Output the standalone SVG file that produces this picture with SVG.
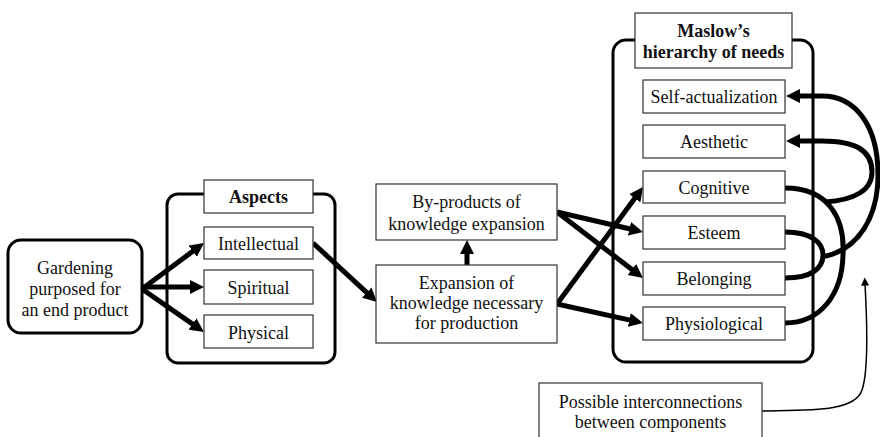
<svg xmlns="http://www.w3.org/2000/svg" width="880" height="437" viewBox="0 0 880 437">
<style>
text{font-family:"Liberation Serif","DejaVu Serif",serif;font-size:18px;fill:#111;text-anchor:middle}
.b{font-weight:bold}
.box{fill:#fff;stroke:#333;stroke-width:1.2}
.cont{fill:none;stroke:#000;stroke-width:3}
.ar{fill:none;stroke:#000;stroke-width:5;marker-end:url(#ah)}
.cv{fill:none;stroke:#000;stroke-width:5}
</style>
<defs>
<marker id="ah" viewBox="0 0 10 10" refX="3" refY="5" markerWidth="14" markerHeight="14" markerUnits="userSpaceOnUse" orient="auto"><path d="M0,0 L10,5 L0,10 z" fill="#000"/></marker>
<marker id="sa" viewBox="0 0 10 10" refX="2" refY="5" markerWidth="9" markerHeight="8" markerUnits="userSpaceOnUse" orient="auto"><path d="M0,0 L10,5 L0,10 z" fill="#000"/></marker>
</defs>
<rect width="880" height="437" fill="#fff"/>

<g id="aspects-container"><rect class="cont" x="167" y="194" width="168" height="169" rx="11"/></g>
<g id="maslow-container"><rect class="cont" x="613" y="40" width="200" height="322" rx="13"/></g>

<g id="connectors">
<path class="ar" d="M142 289 L196.1 248.8"/>
<path class="ar" d="M142 287 L194.2 287"/>
<path class="ar" d="M142 289 L195.9 326.4"/>
<path class="ar" d="M313 243 L369.8 295.4"/>
<path class="ar" d="M467 265 L467 249.8"/>
<path class="ar" d="M557 212 L633.5 229.8"/>
<path class="ar" d="M557 212 L635.2 272"/>
<path class="ar" d="M557 304 L637.2 194.9"/>
<path class="ar" d="M557 304 L633.4 320.9"/>
<path class="cv" d="M785 188 C830 188 845 220 843 255 C842 295 820 323 785 323"/>
<path class="cv" d="M785 232 C812 232 823 243 823 255 C823 268 812 278 785 278"/>
<path class="ar" d="M822 257 C860 250 878 215 878 175 C878 125 855 96 822 96 L795.8 96"/>
<path class="ar" d="M825 202 C855 200 872 190 872 172 C872 150 855 141 822 141 L795.8 141"/>
<path d="M762 411 C810 410 855 412 862 390 C869 370 867 320 865 284" fill="none" stroke="#000" stroke-width="1.5" marker-end="url(#sa)"/>
</g>

<g id="gardening"><rect x="8" y="240" width="134" height="93" rx="13" fill="#fff" stroke="#000" stroke-width="3"/>
<text x="75" y="274">Gardening</text><text x="75" y="295">purposed for</text><text x="75" y="316">an end product</text></g>

<g id="aspects-label"><rect class="box" x="204" y="180" width="109" height="33"/><text class="b" x="258.5" y="203">Aspects</text></g>
<g id="intellectual"><rect class="box" x="204" y="227" width="109" height="32"/><text x="258.5" y="250">Intellectual</text></g>
<g id="spiritual"><rect class="box" x="204" y="270" width="109" height="34"/><text x="258.5" y="294">Spiritual</text></g>
<g id="physical"><rect class="box" x="204" y="315" width="109" height="33"/><text x="258.5" y="339">Physical</text></g>

<g id="byproducts"><rect class="box" x="376" y="184" width="181" height="56"/><text x="466.5" y="208">By-products of</text><text x="466.5" y="230">knowledge expansion</text></g>
<g id="expansion"><rect class="box" x="376" y="265" width="181" height="78"/><text x="466.5" y="289">Expansion of</text><text x="466.5" y="309">knowledge necessary</text><text x="466.5" y="329">for production</text></g>

<g id="maslow-label"><rect class="box" x="635" y="13" width="157" height="55"/><text class="b" x="713.5" y="37">Maslow’s</text><text class="b" x="713.5" y="58">hierarchy of needs</text></g>
<g id="self-actualization"><rect class="box" x="643" y="80" width="142" height="33"/><text x="714" y="103">Self-actualization</text></g>
<g id="aesthetic"><rect class="box" x="643" y="125" width="142" height="33"/><text x="714" y="148">Aesthetic</text></g>
<g id="cognitive"><rect class="box" x="643" y="171" width="142" height="32"/><text x="714" y="194">Cognitive</text></g>
<g id="esteem"><rect class="box" x="643" y="216" width="142" height="33"/><text x="714" y="239">Esteem</text></g>
<g id="belonging"><rect class="box" x="643" y="262" width="142" height="33"/><text x="714" y="285">Belonging</text></g>
<g id="physiological"><rect class="box" x="643" y="307" width="142" height="33"/><text x="714" y="330">Physiological</text></g>

<g id="possible"><rect class="box" x="539" y="383" width="223" height="70"/><text x="650.5" y="408">Possible interconnections</text><text x="650.5" y="428">between components</text></g>
</svg>
